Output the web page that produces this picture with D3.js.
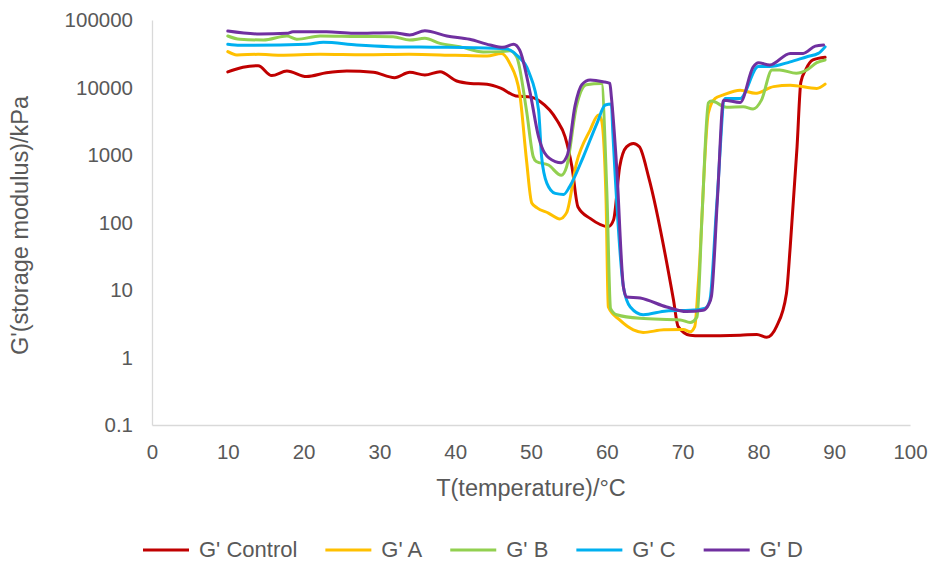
<!DOCTYPE html>
<html lang="en"><head><meta charset="UTF-8">
<title>G' storage modulus vs temperature</title>
<script src="https://d3js.org/d3.v7.min.js"></script>
<style>
  body { margin: 0; background: #fff; }
  text { font-family: "Liberation Sans", Arial, sans-serif; fill: #595959; }
</style>
</head>
<body>
<script>

// series names and colours
var names = ["G' Control", "G' A", "G' B", "G' C", "G' D"];
var colors = ["#C00000", "#FFC000", "#92D050", "#00B0F0", "#7030A0"];

// temperature (°C) and G' (kPa)
var tControl = [10, 12, 14, 15.8, 17.8, 20.4, 23, 25.7, 29.2, 32, 34, 36, 38, 40.2, 42, 44.2, 46, 48, 50, 51.2, 53.4, 54.5, 55.4, 56.2, 57.8, 60.2, 60.9, 61.7, 62.6, 63.5, 64.3, 65.5, 68.8, 69.4, 71, 72.3, 77.6, 79.8, 81.1, 82.4, 83.7, 84.2, 85.1, 85.6, 86.2, 87.2, 88.8];
var gControl = [17000, 20000, 21000, 15000, 17600, 14500, 16500, 17600, 16800, 14000, 16800, 15300, 17100, 12500, 11500, 11200, 9800, 7500, 7200, 6200, 3300, 1860, 670, 170, 115, 87, 110, 670, 1320, 1480, 1320, 480, 7.1, 2.9, 2.14, 2.1, 2.14, 2.2, 2.0, 2.9, 8.9, 44, 1320, 12000, 18000, 25600, 28000];

var tA = [10, 11.2, 14, 16.9, 22.2, 28, 33.9, 40, 44.2, 46.1, 47.2, 48.5, 49.4, 50.1, 50.8, 52.3, 53.8, 54.7, 56, 57.8, 58.9, 59.3, 59.9, 60.2, 61.7, 63.5, 64.8, 67.5, 70.1, 71, 71.6, 72.1, 73.4, 74.3, 75.3, 77.6, 79.6, 82, 84.2, 87.7, 88.8];
var gA = [34000, 30400, 31000, 30000, 31000, 30500, 31000, 30000, 29300, 32000, 22800, 8200, 850, 195, 165, 138, 113, 140, 760, 2340, 3900, 3300, 215, 5.6, 3.6, 2.57, 2.35, 2.57, 2.6, 2.4, 2.86, 14, 4200, 6900, 7700, 9100, 8200, 10300, 10800, 9700, 11200];

var tB = [10, 11.6, 14.7, 17.8, 19.1, 22.2, 27, 31.8, 34, 36, 38, 40.6, 43.7, 46, 47.2, 48.1, 49.4, 50.3, 50.7, 52.3, 54, 54.7, 56, 57.3, 59.3, 60, 60.5, 61.3, 64.4, 69.7, 71, 71.9, 72.6, 73.4, 73.8, 75.8, 78, 79.3, 80.4, 81.8, 82.8, 85, 86.4, 87.7, 88.8];
var gB = [58000, 51800, 50600, 58000, 51800, 58000, 57000, 56600, 50600, 53500, 45000, 40300, 33600, 34000, 35000, 28600, 4600, 940, 800, 710, 500, 670, 5300, 11000, 11500, 300, 5.3, 4.3, 3.8, 3.6, 3.3, 4.0, 155, 5900, 6300, 5100, 5200, 4800, 6500, 18200, 18200, 16200, 18200, 23300, 25600];

var tC = [10, 11.6, 20.4, 22.6, 27, 31.4, 37, 42.4, 46.8, 48.1, 49.7, 51, 51.4, 52.1, 53.2, 54.3, 55.1, 56.9, 58.7, 59.8, 60.6, 60.8, 62.2, 63.1, 64.8, 67.9, 71, 73, 73.6, 74.5, 75.6, 77.6, 80, 81.5, 84.2, 86.4, 87.9, 88.8];
var gC = [43700, 42200, 43700, 46700, 42600, 40300, 39500, 38900, 37200, 30300, 17100, 4600, 940, 380, 270, 260, 340, 940, 2950, 5500, 5700, 2100, 11, 5.6, 4.3, 4.9, 5.0, 5.4, 7.1, 180, 6900, 6900, 20400, 20400, 24000, 28600, 32000, 40000];

var tD = [10, 14.2, 17.8, 18.6, 23, 26.6, 31.8, 34, 36, 38.9, 41.9, 44.6, 46.3, 47.7, 48.5, 49.9, 51, 51.8, 53.2, 54, 54.8, 55.8, 56.7, 57.8, 59.5, 60.4, 60.6, 61.3, 62.2, 62.6, 64.4, 67.9, 70.5, 72.7, 73.4, 73.8, 74.6, 75.4, 77.6, 79.3, 80, 81.5, 84.2, 85.9, 87.5, 88.6];
var gD = [68700, 62000, 63500, 67000, 67000, 63500, 65000, 60000, 69400, 58000, 51800, 42600, 39400, 43700, 36000, 8200, 1860, 1070, 800, 770, 1000, 5300, 11000, 12900, 12200, 11500, 7300, 670, 11, 7.9, 7.6, 5.6, 4.8, 5.0, 6.0, 8, 230, 6500, 6000, 20000, 23300, 21500, 32000, 32000, 41000, 42600];

var xTicks = [0, 10, 20, 30, 40, 50, 60, 70, 80, 90, 100];
var yTicks = [0.1, 1, 10, 100, 1000, 10000, 100000];

var xTitle = "T(temperature)/°C";
var yTitle = "G'(storage modulus)/kPa";

var seriesT = [tControl, tA, tB, tC, tD];
var seriesG = [gControl, gA, gB, gC, gD];

//Width and height
var w = 930;
var h = 562;
var margin = {top: 20, right: 20, bottom: 137, left: 152};

var svg = d3.select("body")
			.append("svg")
			.attr("width", w)
			.attr("height", h);

var x = d3.scaleLinear()
	.domain([0, 100])
	.range([margin.left, w - margin.right]);

var y = d3.scaleLog()
	.domain([0.1, 100000])
	.range([h - margin.bottom, margin.top]);

var fmt = function(d) { return d < 1 ? d3.format(".1f")(d) : d3.format("d")(d); };

// x axis
var gx = svg.append("g")
	.attr("transform", "translate(0," + (h - margin.bottom) + ")")
	.call(d3.axisBottom(x).tickValues(xTicks).tickSize(0).tickPadding(19));
gx.select(".domain").attr("stroke", "#d9d9d9").attr("stroke-width", 1.3);
gx.selectAll("text").style("font-size", "20.5px").attr("fill", "#595959");

// y axis
var gy = svg.append("g")
	.attr("transform", "translate(" + margin.left + ",0)")
	.call(d3.axisLeft(y).tickValues(yTicks).tickFormat(fmt).tickSize(0).tickPadding(19));
gy.select(".domain").attr("stroke", "#d9d9d9").attr("stroke-width", 1.3);
gy.selectAll("text").style("font-size", "20.5px").attr("fill", "#595959");

// axis titles
svg.append("text")
	.attr("x", (x.range()[0] + x.range()[1]) / 2)
	.attr("y", 496)
	.attr("text-anchor", "middle")
	.style("font-size", "23.5px")
	.text(xTitle);

svg.append("text")
	.attr("transform", "translate(28," + ((y.range()[0] + y.range()[1]) / 2 + 3) + ") rotate(-90)")
	.attr("text-anchor", "middle")
	.style("font-size", "23.5px")
	.text(yTitle);

// lines
var line = d3.line()
	.x(function(d) { return x(d[0]); })
	.y(function(d) { return y(d[1]); })
	.curve(d3.curveMonotoneX);

for (var i = 0; i < names.length; i++) {
	var pts = seriesT[i].map(function(t, j) { return [t, seriesG[i][j]]; });
	svg.append("path")
		.datum(pts)
		.attr("fill", "none")
		.attr("stroke", colors[i])
		.attr("stroke-width", 3)
		.attr("stroke-linejoin", "round")
		.attr("stroke-linecap", "round")
		.attr("d", line);
}

// legend
var lx = 143;
var ly = 550;
for (var k = 0; k < names.length; k++) {
	svg.append("line")
		.attr("x1", lx).attr("x2", lx + 46)
		.attr("y1", ly).attr("y2", ly)
		.attr("stroke", colors[k])
		.attr("stroke-width", 3);
	var t = svg.append("text")
		.attr("x", lx + 56)
		.attr("y", ly + 7)
		.style("font-size", "22px")
		.text(names[k]);
	lx = lx + 56 + t.node().getComputedTextLength() + 28;
}
</script>
</body></html>
